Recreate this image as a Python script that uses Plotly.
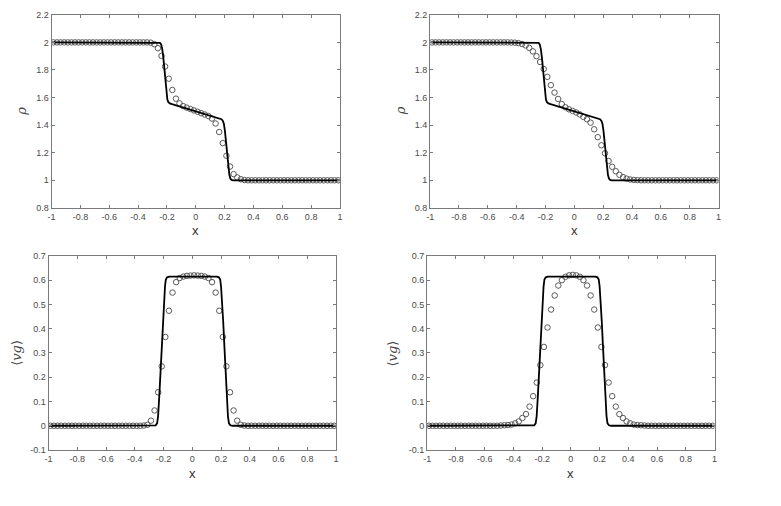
import plotly.graph_objects as go
from plotly.subplots import make_subplots

# ---------------- data ----------------
# cell centres of the 80-cell grid on [-1, 1]
x_cells = [-0.9875, -0.9625, -0.9375, -0.9125, -0.8875, -0.8625, -0.8375, -0.8125,
           -0.7875, -0.7625, -0.7375, -0.7125, -0.6875, -0.6625, -0.6375, -0.6125,
           -0.5875, -0.5625, -0.5375, -0.5125, -0.4875, -0.4625, -0.4375, -0.4125,
           -0.3875, -0.3625, -0.3375, -0.3125, -0.2875, -0.2625, -0.2375, -0.2125,
           -0.1875, -0.1625, -0.1375, -0.1125, -0.0875, -0.0625, -0.0375, -0.0125,
           0.0125, 0.0375, 0.0625, 0.0875, 0.1125, 0.1375, 0.1625, 0.1875,
           0.2125, 0.2375, 0.2625, 0.2875, 0.3125, 0.3375, 0.3625, 0.3875,
           0.4125, 0.4375, 0.4625, 0.4875, 0.5125, 0.5375, 0.5625, 0.5875,
           0.6125, 0.6375, 0.6625, 0.6875, 0.7125, 0.7375, 0.7625, 0.7875,
           0.8125, 0.8375, 0.8625, 0.8875, 0.9125, 0.9375, 0.9625, 0.9875]

# density, scheme 1 (top left)
rho_scheme1 = [2.0, 2.0, 2.0, 2.0, 2.0, 2.0, 2.0, 2.0, 2.0, 2.0,
               2.0, 2.0, 2.0, 2.0, 2.0, 2.0, 2.0, 2.0, 2.0, 2.0,
               2.0, 2.0, 2.0, 2.0, 2.0, 2.0, 2.0,
               1.998, 1.987, 1.958, 1.902, 1.825, 1.737, 1.655, 1.592, 1.558,
               1.538, 1.527, 1.517, 1.507, 1.497, 1.487, 1.477, 1.466, 1.448,
               1.412, 1.35, 1.27, 1.178, 1.1, 1.045, 1.021, 1.008, 1.002,
               1.0, 1.0, 1.0, 1.0, 1.0, 1.0, 1.0, 1.0, 1.0, 1.0,
               1.0, 1.0, 1.0, 1.0, 1.0, 1.0, 1.0, 1.0, 1.0, 1.0,
               1.0, 1.0, 1.0, 1.0, 1.0, 1.0]

# density, scheme 2 (top right)
rho_scheme2 = [2.0, 2.0, 2.0, 2.0, 2.0, 2.0, 2.0, 2.0, 2.0, 2.0,
               2.0, 2.0, 2.0, 2.0, 2.0, 2.0, 2.0, 2.0, 2.0, 2.0,
               2.0, 2.0,
               1.999, 1.998, 1.995, 1.988, 1.978, 1.96, 1.935, 1.9, 1.858,
               1.807, 1.75, 1.69, 1.636, 1.59, 1.553, 1.53, 1.515, 1.503,
               1.492, 1.478, 1.46, 1.443, 1.418, 1.37, 1.313, 1.254, 1.196,
               1.14, 1.098, 1.066, 1.04, 1.023, 1.012, 1.006, 1.003, 1.001,
               1.0, 1.0, 1.0, 1.0, 1.0, 1.0, 1.0, 1.0, 1.0, 1.0,
               1.0, 1.0, 1.0, 1.0, 1.0, 1.0, 1.0, 1.0, 1.0, 1.0,
               1.0, 1.0]

# momentum <vg>, scheme 1 (bottom left)
vg_scheme1 = [0.0, 0.0, 0.0, 0.0, 0.0, 0.0, 0.0, 0.0, 0.0, 0.0,
              0.0, 0.0, 0.0, 0.0, 0.0, 0.0, 0.0, 0.0, 0.0, 0.0,
              0.0, 0.0, 0.0, 0.0, 0.0, 0.0, 0.001,
              0.004, 0.021, 0.063, 0.138, 0.245, 0.366, 0.474, 0.549, 0.592,
              0.609, 0.615, 0.618, 0.619, 0.62, 0.619, 0.618, 0.615, 0.609,
              0.592, 0.549, 0.474, 0.366, 0.245, 0.138, 0.063, 0.021, 0.004,
              0.001,
              0.0, 0.0, 0.0, 0.0, 0.0, 0.0, 0.0, 0.0, 0.0, 0.0,
              0.0, 0.0, 0.0, 0.0, 0.0, 0.0, 0.0, 0.0, 0.0, 0.0,
              0.0, 0.0, 0.0, 0.0, 0.0]

# momentum <vg>, scheme 2 (bottom right)
vg_scheme2 = [0.0, 0.0, 0.0, 0.0, 0.0, 0.0, 0.0, 0.0, 0.0, 0.0,
              0.0, 0.0, 0.0, 0.0, 0.0, 0.0, 0.0, 0.0, 0.0, 0.0,
              0.001, 0.002, 0.003, 0.005, 0.01, 0.018, 0.032, 0.048, 0.079,
              0.122, 0.178, 0.25, 0.325, 0.405, 0.479, 0.537, 0.578, 0.6,
              0.614, 0.62, 0.622, 0.62, 0.614, 0.6, 0.578, 0.537, 0.479,
              0.405, 0.325, 0.25, 0.178, 0.122, 0.079, 0.048, 0.032, 0.018,
              0.01, 0.005, 0.003, 0.002, 0.001,
              0.0, 0.0, 0.0, 0.0, 0.0, 0.0, 0.0, 0.0, 0.0, 0.0,
              0.0, 0.0, 0.0, 0.0, 0.0, 0.0, 0.0, 0.0, 0.0]

# reference (fine) solutions, solid lines
x_ref_rho = [-1.0, -0.26, -0.248, -0.24, -0.233, -0.226, -0.218, -0.21, -0.203,
             -0.197, -0.19, -0.18, -0.165, 0.0, 0.165, 0.178, 0.187, 0.195,
             0.202, 0.21, 0.218, 0.226, 0.233, 0.24, 0.248, 0.26, 1.0]
rho_ref = [2.0, 2.0, 1.997, 1.985, 1.955, 1.9, 1.8, 1.69, 1.62,
           1.585, 1.567, 1.558, 1.552, 1.5, 1.448, 1.443, 1.432, 1.41,
           1.36, 1.27, 1.17, 1.09, 1.04, 1.013, 1.003, 1.0, 1.0]

x_ref_vg = [-1.0, -0.27, -0.255, -0.245, -0.238, -0.23, -0.222, -0.214, -0.205,
            -0.197, -0.19, -0.184, -0.175, -0.16, 0.0, 0.17, 0.185, 0.194,
            0.2, 0.207, 0.215, 0.224, 0.232, 0.24, 0.248, 0.255, 0.265, 0.28, 1.0]
vg_ref = [0.0, 0.0, 0.002, 0.01, 0.04, 0.12, 0.22, 0.32, 0.43,
          0.52, 0.575, 0.603, 0.612, 0.615, 0.616, 0.615, 0.612, 0.603,
          0.575, 0.52, 0.43, 0.32, 0.22, 0.12, 0.04, 0.01, 0.002, 0.0, 0.0]

x_ticks = [-1, -0.8, -0.6, -0.4, -0.2, 0, 0.2, 0.4, 0.6, 0.8, 1]
x_ticktext = ["-1", "-0.8", "-0.6", "-0.4", "-0.2", "0", "0.2", "0.4", "0.6", "0.8", "1"]
rho_ticks = [0.8, 1.0, 1.2, 1.4, 1.6, 1.8, 2.0, 2.2]
rho_ticktext = ["0.8", "1", "1.2", "1.4", "1.6", "1.8", "2", "2.2"]
vg_ticks = [-0.1, 0, 0.1, 0.2, 0.3, 0.4, 0.5, 0.6, 0.7]
vg_ticktext = ["-0.1", "0", "0.1", "0.2", "0.3", "0.4", "0.5", "0.6", "0.7"]

# ---------------- figure ----------------
W, H = 781, 506
fig = make_subplots(rows=2, cols=2)

panels = [
    (1, 1, x_ref_rho, rho_ref, rho_scheme1),
    (1, 2, x_ref_rho, rho_ref, rho_scheme2),
    (2, 1, x_ref_vg, vg_ref, vg_scheme1),
    (2, 2, x_ref_vg, vg_ref, vg_scheme2),
]
for r, c, xr, yr, ys in panels:
    fig.add_trace(go.Scatter(x=x_cells, y=ys, mode="markers",
                             marker=dict(symbol="circle-open", size=5.5,
                                         color="#5a5a5a", line=dict(width=1)),
                             showlegend=False, hoverinfo="skip"), row=r, col=c)
    fig.add_trace(go.Scatter(x=xr, y=yr, mode="lines",
                             line=dict(color="black", width=1.8),
                             showlegend=False, hoverinfo="skip"), row=r, col=c)

# pixel boxes of the four axes: (left, right, top, bottom)
boxes = {
    (1, 1): (48, 339, 10, 207),
    (1, 2): (430, 721, 10, 207),
    (2, 1): (45, 335, 256, 454),
    (2, 2): (427, 717, 256, 454),
}
tickfont = dict(family="Liberation Sans, Arial, sans-serif", size=9, color="#4a4a4a")
axis_common = dict(showgrid=False, zeroline=False, showline=True, linecolor="#7a7a7a",
                   linewidth=1, mirror="allticks", ticks="inside", ticklen=3,
                   tickcolor="#7a7a7a", tickwidth=1, tickfont=tickfont)

for (r, c), (l, rgt, t, b) in boxes.items():
    fig.update_xaxes(domain=[l / W, rgt / W], range=[-1, 1], tickvals=x_ticks,
                     ticktext=x_ticktext, row=r, col=c, **axis_common)
    if r == 1:
        fig.update_yaxes(domain=[1 - b / H, 1 - t / H], range=[0.8, 2.2],
                         tickvals=rho_ticks, ticktext=rho_ticktext,
                         row=r, col=c, **axis_common)
    else:
        fig.update_yaxes(domain=[1 - b / H, 1 - t / H], range=[-0.1, 0.7],
                         tickvals=vg_ticks, ticktext=vg_ticktext,
                         row=r, col=c, **axis_common)

annotations = []
xlabel_font = dict(family="Liberation Sans, Arial, sans-serif", size=13, color="#333333")
ylabel_font = dict(family="DejaVu Serif, serif", size=13, color="#444444")
for (r, c), (l, rgt, t, b) in boxes.items():
    ty = 230 if r == 1 else 478
    annotations.append(dict(text="x", x=(l + rgt) / 2 / W, y=1 - ty / H, xref="paper",
                            yref="paper", showarrow=False, font=xlabel_font,
                            xanchor="center", yanchor="middle"))
ylabels = [("<i>ρ</i>", 18, 108), ("<i>ρ</i>", 400, 108),
           ("⟨<i>vg</i>⟩", 13, 355), ("⟨<i>vg</i>⟩", 393, 355)]
for txt, px, py in ylabels:
    annotations.append(dict(text=txt, x=px / W, y=1 - py / H, xref="paper", yref="paper",
                            showarrow=False, textangle=-90, font=ylabel_font,
                            xanchor="center", yanchor="middle"))

fig.update_layout(width=W, height=H, margin=dict(l=0, r=0, t=0, b=0),
                  paper_bgcolor="white", plot_bgcolor="white",
                  annotations=annotations, showlegend=False)

fig.write_html("out.html")
